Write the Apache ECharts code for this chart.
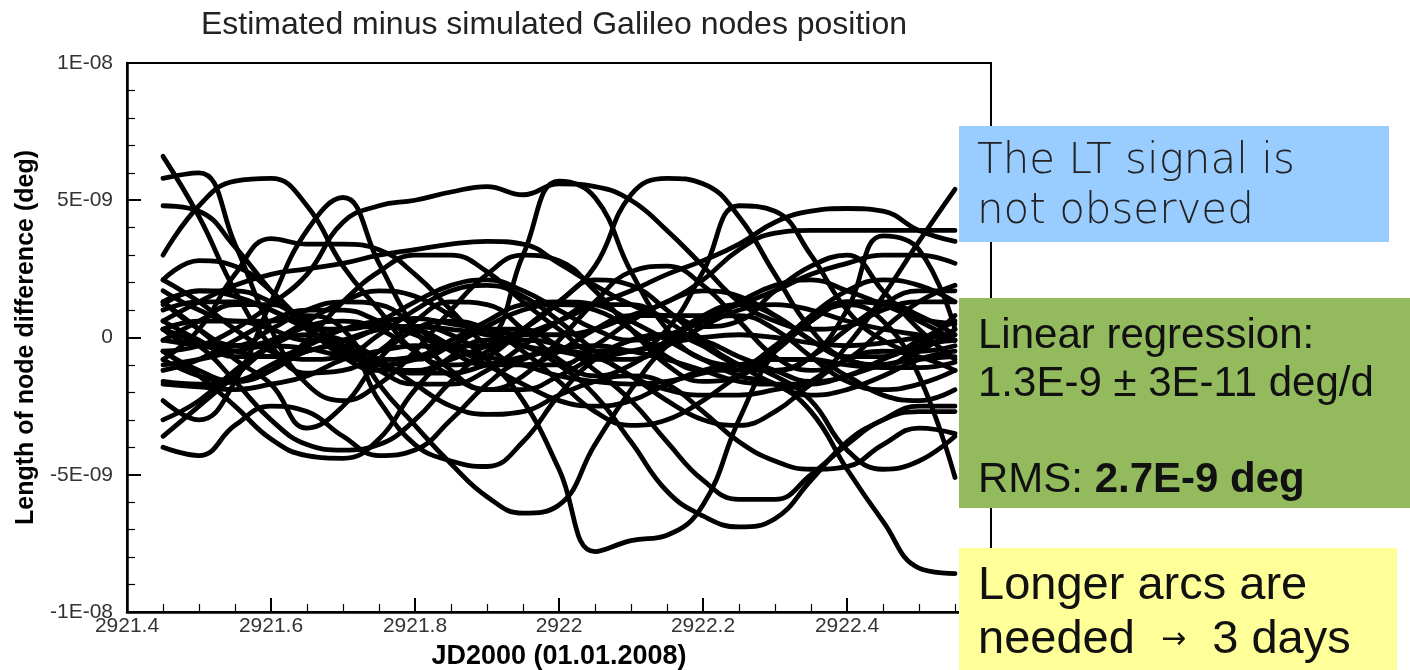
<!DOCTYPE html>
<html>
<head>
<meta charset="utf-8">
<script src="https://cdn.jsdelivr.net/npm/echarts@6/dist/echarts.min.js"></script>
<style>
  html, body { margin: 0; padding: 0; background: #fff; }
  #chart { width: 1410px; height: 670px; }
</style>
</head>
<body>
<div id="chart"></div>
<script>
// Epochs (JD2000 days) shared by every node curve
const epochs = [2921.45, 2921.50, 2921.55, 2921.60, 2921.65, 2921.70, 2921.75, 2921.80,
                2921.85, 2921.90, 2921.95, 2922.00, 2922.05, 2922.10, 2922.15, 2922.20,
                2922.25, 2922.30, 2922.35, 2922.40, 2922.45, 2922.50, 2922.55];

// Estimated minus simulated node length, in units of 1E-9 deg
const node01 = [6.6, 4.4, 1.7, -0.3, -1.3, -1.2, -0.5, 0.6, 1.3, 1.2, 0.3, -0.8, -1.4, -1.0, -0.1, 0.8, 1.2, 0.8, -0.1, -0.8, -1.0, -0.5, 0.3];
const node02 = [5.8, 6.0, 3.4, 0.3, -1.7, -2.3, -1.7, -0.5, 1.0, 2.3, 3.0, 2.8, 1.7, 0.3, -1.0, -1.6, -1.4, -0.5, 0.6, 1.3, 1.3, 0.8, 0.1];
const node03 = [4.8, 4.6, 3.3, 1.7, 0.3, -0.5, -1.0, -0.8, -0.3, 0.3, 0.3, -0.3, -0.8, -0.8, -0.3, 0.4, 1.0, 1.2, 1.0, 0.6, 0.3, 0.1, -0.1];
const node04 = [3.0, 4.8, 5.7, 5.8, 4.8, 2.6, 1.0, -0.5, -1.0, -0.7, 0.3, 1.3, 2.1, 1.9, 1.0, -0.1, -1.0, -1.2, -0.7, 0.3, 1.2, 1.7, 1.7];
const node05 = [-2.3, -3.0, -1.6, 1.3, 3.9, 5.1, 2.7, 0.3, -1.2, -1.9, -1.4, -0.1, 1.3, 2.4, 2.6, 1.9, 0.6, -0.7, -1.2, -0.8, 0.3, 1.3, 1.9];
const node06 = [-0.8, 0.3, 2.3, 3.6, 3.4, 3.4, 3.2, 2.3, 1.0, -0.3, -1.0, -1.0, -0.3, 0.6, 1.3, 1.7, 1.5, 0.8, -0.1, -0.7, -0.7, -0.1, 0.6];
const node07 = [-0.5, -0.3, 0.3, 1.2, 2.3, 4.2, 4.8, 5.0, 5.3, 5.5, 5.2, 5.6, 5.5, 5.0, 3.9, 2.6, 1.3, 0.6, 0.3, 0.4, 1.0, 1.3, 1.3];
const node08 = [1.3, 0.3, -0.3, -0.1, 0.6, 1.3, 1.7, 1.5, 0.8, 0.1, 3.0, 5.7, 5.1, 2.4, 0.3, -0.8, -1.0, -0.3, 0.8, 1.7, 2.1, 1.9, 1.3];
const node09 = [2.1, 2.8, 2.6, 1.7, 0.4, -0.7, -1.2, -1.2, -0.8, -0.3, 0.3, 1.3, 2.6, 5.2, 5.8, 5.6, 4.4, 2.3, 0.3, -0.8, -1.0, -0.3, 0.8];
const node10 = [-0.5, -1.2, -1.6, -1.2, -0.1, 1.3, 2.4, 3.0, 3.0, 2.4, 1.3, 0.3, -0.5, -0.5, 0.3, 2.4, 4.8, 4.6, 3.0, 1.0, -0.1, -0.5, -0.3];
const node11 = [-1.2, -0.8, -0.1, 0.6, 1.0, 1.0, 0.6, 0.1, -0.3, -0.3, 0.1, 0.6, 1.2, 1.7, 2.3, 2.8, 3.4, 4.2, 4.6, 4.7, 4.6, 3.9, 3.5];
const node12 = [0.6, -0.1, -0.7, -0.7, -0.3, 0.3, 0.6, 0.7, 0.5, 0.3, 0.1, 0.1, 0.3, 0.8, 1.3, 2.1, 3.2, 3.8, 3.9, 3.9, 3.9, 3.9, 3.9];
const node13 = [2.1, 1.3, 0.3, -0.5, -0.8, -0.7, 0.1, 1.0, 1.7, 1.9, 1.5, 0.6, -0.5, -1.4, -1.9, -2.1, -2.1, -1.9, -1.6, -0.3, 1.5, 3.5, 5.4];
const node14 = [-0.1, 0.6, 1.2, 1.2, 0.6, -0.3, -1.2, -1.7, -1.7, -1.2, -0.3, 0.6, 1.2, 1.2, 0.6, -0.3, -1.0, -1.2, -0.7, 1.0, 3.7, 3.2, 0.3];
const node15 = [0.3, -0.3, -0.3, 0.3, 1.0, 1.3, 1.2, 0.4, -0.5, -1.0, -1.0, -0.5, 0.3, 0.8, 0.8, 0.4, 0.6, 1.7, 2.6, 3.0, 1.7, 0.3, -0.8];
const node16 = [-3.6, -2.5, -1.4, -0.3, 0.4, 0.6, 0.3, -0.5, -1.4, -1.9, -1.9, -1.4, -0.7, -0.1, 0.1, -0.1, -0.7, -1.2, -1.6, -1.4, -0.8, -0.3, -0.1];
const node17 = [-4.0, -4.3, -3.2, -2.5, -2.7, -3.6, -4.3, -4.1, -3.0, -1.7, -0.8, -0.5, -0.7, -1.4, -2.3, -3.0, -3.2, -2.7, -1.7, -0.8, -0.5, -0.7, -1.2];
const node18 = [-0.5, -1.4, -2.5, -3.7, -4.3, -4.4, -3.7, -1.9, -0.7, -0.1, -0.3, -1.0, -2.1, -3.8, -5.6, -6.5, -6.9, -6.6, -5.2, -3.8, -3.0, -2.5, -2.5];
const node19 = [0.3, -0.3, -1.6, -3.0, -3.9, -4.1, -3.9, -3.0, -1.6, -0.5, -0.1, -0.3, -1.2, -2.3, -3.8, -5.2, -5.9, -5.9, -5.0, -3.9, -3.0, -2.7, -2.7];
const node20 = [1.3, 0.3, -0.8, -1.7, -3.3, -2.5, -0.8, 0.3, 0.6, 0.3, -0.5, -1.6, -2.7, -3.2, -3.0, -2.3, -1.4, -0.8, -0.8, -1.4, -2.1, -2.3, -1.9];
const node21 = [1.7, 1.0, 0.6, 0.6, 0.8, 0.3, -1.7, -3.2, -4.6, -5.8, -6.4, -6.1, -3.9, -1.9, -0.3, 0.6, 0.8, 0.3, -0.7, -1.6, -1.9, -1.7, -1.2];
const node22 = [-0.8, -1.4, -1.6, -1.2, -0.5, -0.3, -2.3, -3.9, -4.5, -4.7, -3.8, -2.1, -0.8, -0.1, 0.1, -0.3, -1.0, -1.7, -2.1, -1.9, -1.4, -0.8, -0.5];
const node23 = [0.3, 0.6, 0.6, 0.3, -0.1, -0.1, 0.3, 0.4, 0.1, -0.8, -2.3, -4.8, -7.8, -7.4, -7.2, -6.1, -3.0, -0.5, 0.6, 1.3, 1.2, 0.6, -0.1];
const node24 = [1.0, 1.3, 1.3, 1.0, 0.3, -0.5, -0.8, -0.7, -0.1, 0.6, 1.2, 1.3, 1.2, 0.6, -0.1, -0.8, -1.4, -1.7, -2.7, -4.8, -6.7, -8.4, -8.6];
const node25 = [-1.6, -1.7, -1.6, -1.0, -0.3, 0.3, 0.4, 0.3, -0.3, -1.0, -1.7, -2.3, -2.5, -2.3, -1.7, -1.2, -1.0, -1.4, -2.3, -4.1, -4.8, -4.5, -3.6];
const node26 = [1.2, 1.7, 1.7, 1.3, 0.6, -0.3, -0.8, -0.8, -0.3, 0.4, 1.0, 1.2, 1.0, 0.3, -0.7, -1.2, -1.2, -0.5, 0.6, 1.2, 0.6, -1.4, -5.1];
const node27 = [-1.7, -1.8, -1.9, -1.7, -1.4, -0.8, -0.5, -0.3, -0.4, -0.7, -1.0, -1.4, -1.6, -1.7, -1.6, -1.3, -1.0, -0.8, -0.8, -1.0, -1.1, -1.1, -0.9];
const node28 = [-0.1, -0.3, -0.5, -0.7, -0.5, -0.1, 0.3, 0.4, 0.3, 0.1, -0.3, -0.5, -0.7, -0.5, -0.2, 0.0, 0.1, 0.0, -0.2, -0.3, -0.2, 0.0, 0.1];
const node29 = [-1.0, -0.8, -0.5, -0.3, -0.4, -0.7, -1.0, -1.3, -1.3, -1.0, -0.7, -0.4, -0.3, -0.5, -0.8, -1.2, -1.6, -1.7, -1.7, -1.4, -1.0, -0.8, -0.7];
const node30 = [1.3, 1.7, 1.5, 1.0, 0.4, 0.3, 0.6, 1.3, 1.9, 2.1, 1.7, 1.0, 0.3, -0.1, 0.1, 0.6, 1.3, 1.9, 2.1, 1.7, 1.2, 0.7, 0.5];
const node31 = [0.6, 1.3, 1.9, 2.3, 2.5, 2.7, 3.0, 3.2, 3.4, 3.5, 3.4, 2.7, 1.9, 1.2, 0.8, 0.8, 1.2, 1.7, 2.3, 2.7, 3.0, 3.0, 2.7];
const node32 = [-3.0, -2.3, -1.2, -0.3, 0.1, -0.1, -0.8, -1.7, -2.5, -2.8, -2.7, -2.1, -1.6, -1.4, -1.7, -2.7, -3.8, -4.5, -4.8, -4.7, -3.9, -3.3, -3.5];

const nodeCurves = [node01, node02, node03, node04, node05, node06, node07, node08,
                    node09, node10, node11, node12, node13, node14, node15, node16,
                    node17, node18, node19, node20, node21, node22, node23, node24,
                    node25, node26, node27, node28, node29, node30, node31, node32];

const NANO = 1e-9;

// Axis ticks
const yTickValues = [-10, -5, 0, 5, 10];
const yTickLabels = ['-1E-08', '-5E-09', '0', '5E-09', '1E-08'];

const chart = echarts.init(document.getElementById('chart'), null, { renderer: 'canvas' });

const series = nodeCurves.map((vals, k) => ({
  type: 'line',
  name: 'node' + (k + 1),
  data: vals.map((v, i) => [epochs[i], v * NANO]),
  smooth: 0.45,
  showSymbol: false,
  symbol: 'none',
  lineStyle: { color: '#000', width: 4.8, cap: 'round', join: 'round' },
  silent: true,
  z: 2
}));

const labelFont = 'Liberation Sans, Arial, Helvetica, sans-serif';

chart.setOption({
  animation: false,
  backgroundColor: '#fff',
  title: {
    text: 'Estimated minus simulated Galileo nodes position',
    left: 549,
    textAlign: 'center',
    top: 4,
    textStyle: { fontFamily: labelFont, fontSize: 32, fontWeight: 'normal', color: '#222' }
  },
  grid: {
    left: 127, right: 419, top: 63, bottom: 58,
    outerBoundsMode: 'none',
    containLabel: false,
    show: true, borderColor: '#000', borderWidth: 2, backgroundColor: 'transparent'
  },
  xAxis: {
    type: 'value',
    min: 2921.4, max: 2922.6, interval: 0.2,
    name: 'JD2000 (01.01.2008)',
    nameLocation: 'middle',
    nameGap: 31,
    nameTextStyle: { fontFamily: labelFont, fontSize: 27, fontWeight: 'bold', color: '#000' },
    axisLine: { show: true, onZero: false, lineStyle: { color: '#000', width: 2.5 } },
    axisTick: { show: true, inside: true, length: 14, lineStyle: { color: '#000', width: 2 } },
    minorTick: { show: true, splitNumber: 4, length: 8, lineStyle: { color: '#000', width: 1.2 } },
    axisLabel: {
      fontFamily: labelFont, fontSize: 21, color: '#333', margin: 4,
      formatter: v => String(Math.round(v * 10) / 10)
    },
    splitLine: { show: false }
  },
  yAxis: {
    type: 'value',
    min: -10 * NANO, max: 10 * NANO, interval: 5 * NANO,
    name: 'Length of node difference (deg)',
    nameLocation: 'middle',
    nameGap: 83,
    nameRotate: 90,
    nameTextStyle: { fontFamily: labelFont, fontSize: 25, fontWeight: 'bold', color: '#000' },
    axisLine: { show: true, onZero: false, lineStyle: { color: '#000', width: 2.5 } },
    axisTick: { show: true, inside: true, length: 14, lineStyle: { color: '#000', width: 2 } },
    minorTick: { show: true, splitNumber: 5, length: 8, lineStyle: { color: '#000', width: 1.2 } },
    axisLabel: {
      fontFamily: labelFont, fontSize: 21, color: '#333', margin: 14,
      formatter: v => {
        const k = yTickValues.indexOf(Math.round(v / NANO));
        return k >= 0 ? yTickLabels[k] : '';
      }
    },
    splitLine: { show: false }
  },
  series: series,
  graphic: [
    { type: 'rect', z: 100, shape: { x: 959, y: 126, width: 430, height: 116 }, style: { fill: '#99ccff' } },
    { type: 'text', z: 101, x: 977, y: 137,
      style: { text: 'The LT signal is\nnot observed', fontFamily: 'DejaVu Sans', fontWeight: 200, fontSize: 42,
               lineHeight: 50, fill: '#222', verticalAlign: 'top' } },
    { type: 'rect', z: 100, shape: { x: 959, y: 298, width: 451, height: 210 }, style: { fill: '#93bb5e' } },
    { type: 'text', z: 101, x: 978, y: 312,
      style: { text: 'Linear regression:\n1.3E-9 \u00b1 3E-11 deg/d\n\nRMS: {b|2.7E-9 deg}',
               fontFamily: labelFont, fontSize: 42, lineHeight: 48, fill: '#111', verticalAlign: 'top',
               rich: { b: { fontFamily: labelFont, fontSize: 42, fontWeight: 'bold', fill: '#111', lineHeight: 48 } } } },
    { type: 'rect', z: 100, shape: { x: 959, y: 548, width: 438, height: 122 }, style: { fill: '#ffff99' } },
    { type: 'text', z: 101, x: 978, y: 559,
      style: { text: 'Longer arcs are\nneeded  {a|\u2192}  3 days',
               fontFamily: labelFont, fontSize: 47, lineHeight: 54, fill: '#111', verticalAlign: 'top',
               rich: { a: { fontFamily: 'DejaVu Sans', fontSize: 30, fill: '#111', lineHeight: 54 } } } }
  ]
});
</script>
</body>
</html>
